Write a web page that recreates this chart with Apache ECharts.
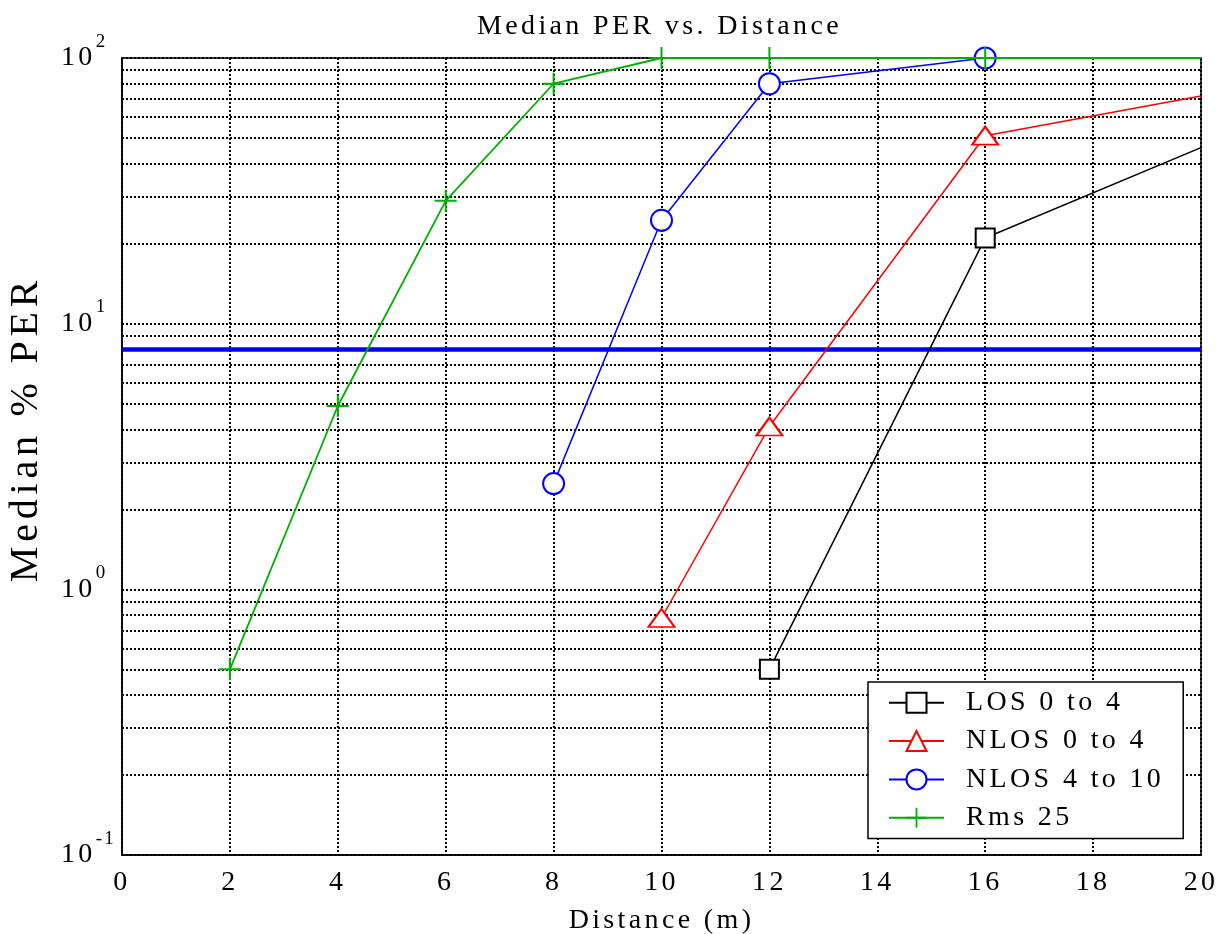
<!DOCTYPE html>
<html>
<head>
<meta charset="utf-8">
<style>
  html, body { margin: 0; padding: 0; background: #fff; }
  #chart { width: 1220px; height: 934px; }
</style>
<script src="https://cdn.jsdelivr.net/npm/echarts@6/dist/echarts.min.js"></script>
</head>
<body>
<div id="chart"></div>
<script>
// ---------- data ----------
const title = 'Median PER vs. Distance';
const xName = 'Distance (m)';
const yName = 'Median % PER';
const xTicks = [0, 2, 4, 6, 8, 10, 12, 14, 16, 18, 20];
const yDecades = [0.1, 1, 10, 100];
const yMinorGrid = [0.2, 0.3, 0.4, 0.5, 0.6, 0.7, 0.8, 0.9,
                    2, 3, 4, 5, 6, 7, 8, 9,
                    20, 30, 40, 50, 60, 70, 80, 90];
const refLineValue = 8;

const seriesNames = ['LOS 0 to 4', 'NLOS 0 to 4', 'NLOS 4 to 10', 'Rms 25'];
const losX = [12, 16, 20];
const losY = [0.5, 21, 46];
const nlos04X = [10, 12, 16, 20];
const nlos04Y = [0.78, 4.1, 51, 72];
const nlos410X = [8, 10, 12, 16];
const nlos410Y = [2.5, 24.5, 80, 100];
const rmsX = [2, 4, 6, 8, 10, 12, 16, 20];
const rmsY = [0.5, 4.9, 29, 80, 100, 100, 100, 100];

// ---------- mimic the wide letter spacing of the original ----------
(function () {
  const P = CanvasRenderingContext2D.prototype;
  const d = Object.getOwnPropertyDescriptor(P, 'font');
  if (d && d.set && d.get && ('letterSpacing' in P)) {
    Object.defineProperty(P, 'font', {
      configurable: true,
      enumerable: d.enumerable,
      get() { return d.get.call(this); },
      set(v) {
        d.set.call(this, v);
        const m = /(\d+(?:\.\d+)?)px/.exec(v);
        const px = m ? parseFloat(m[1]) : 12;
        try { this.letterSpacing = (px * 0.12).toFixed(2) + 'px'; } catch (e) {}
      }
    });
  }
})();

const FONT = 'Liberation Serif';
const X_MAX = xTicks[xTicks.length - 1];

function zip(xs, ys) {
  return xs.map((x, i) => {
    const item = { value: [x, ys[i]] };
    if (x >= X_MAX) item.symbol = 'none';   // clipped continuation at the edge
    return item;
  });
}

const plusPath = 'path://M-0.9,-10 L0.9,-10 L0.9,-0.9 L10,-0.9 L10,0.9 L0.9,0.9 L0.9,10 L-0.9,10 L-0.9,0.9 L-10,0.9 L-10,-0.9 L-0.9,-0.9 Z';

const dotted = { color: '#000', width: 2, type: [2, 2] };

const chart = echarts.init(document.getElementById('chart'), null, { renderer: 'canvas' });

const option = {
  animation: false,
  backgroundColor: '#fff',
  title: {
    text: title,
    left: 477,
    top: 11,
    padding: 0,
    textStyle: { fontFamily: FONT, fontSize: 28, fontWeight: 'normal', color: '#000' }
  },
  grid: {
    left: 122, right: 19, top: 58, bottom: 79,
    containLabel: false,
    outerBoundsMode: 'none',
    show: true, borderColor: '#000', borderWidth: 1.5, backgroundColor: 'transparent'
  },
  legend: {
    data: seriesNames,
    orient: 'vertical',
    left: 868,
    top: 682,
    padding: [5, 19, 5, 20],
    itemGap: 7,
    itemWidth: 55,
    itemHeight: 25,
    backgroundColor: '#fff',
    borderColor: '#000',
    borderWidth: 1.5,
    borderRadius: 0,
    z: 10,
    textStyle: { fontFamily: FONT, fontSize: 28, color: '#000', lineHeight: 30, padding: [0, 0, 0, 17] }
  },
  xAxis: {
    type: 'value',
    min: xTicks[0],
    max: X_MAX,
    interval: xTicks[1] - xTicks[0],
    name: xName,
    nameLocation: 'middle',
    nameGap: 50,
    nameTextStyle: { fontFamily: FONT, fontSize: 28, color: '#000' },
    axisLine: { show: true, onZero: false, lineStyle: { color: '#000', width: 1.5 } },
    axisTick: { show: false },
    axisLabel: { fontFamily: FONT, fontSize: 28, color: '#000', margin: 12 },
    splitLine: { show: true, lineStyle: dotted }
  },
  yAxis: {
    type: 'log',
    logBase: 10,
    min: yDecades[0],
    max: yDecades[yDecades.length - 1],
    name: yName,
    nameLocation: 'middle',
    nameGap: 73,
    nameTextStyle: { fontFamily: FONT, fontSize: 40, color: '#000', padding: [0, 0, 0, 55] },
    axisLine: { show: true, lineStyle: { color: '#000', width: 1.5 } },
    axisTick: { show: false },
    axisLabel: {
      align: 'left',
      margin: 61,
      formatter: function (v) {
        const e = Math.round(Math.log10(v));
        return '{a|10}{b|' + e + '}';
      },
      rich: {
        a: { fontFamily: FONT, fontSize: 28, color: '#000', lineHeight: 54 },
        b: { fontFamily: FONT, fontSize: 19, color: '#000', lineHeight: 19, verticalAlign: 'top' }
      }
    },
    splitLine: { show: true, lineStyle: dotted }
  },
  series: [
    {
      name: seriesNames[0],
      type: 'line',
      data: zip(losX, losY),
      symbol: 'emptyRect',
      symbolSize: 19,
      lineStyle: { color: '#000', width: 1.5 },
      itemStyle: { color: '#000', borderWidth: 1.5 },
      z: 3,
      markLine: {
        silent: true,
        symbol: ['none', 'none'],
        z: 1,
        label: { show: false },
        emphasis: { disabled: true },
        lineStyle: dotted,
        data: yMinorGrid.map(v => ({ yAxis: v })).concat([
          { yAxis: refLineValue, lineStyle: { color: '#0000ff', width: 4.5, type: 'solid' } }
        ])
      }
    },
    {
      name: seriesNames[1],
      type: 'line',
      data: zip(nlos04X, nlos04Y),
      symbol: 'emptyTriangle',
      symbolSize: [26, 18],
      lineStyle: { color: '#ff0000', width: 1.5 },
      itemStyle: { color: '#ff0000', borderWidth: 1.5 },
      z: 4
    },
    {
      name: seriesNames[2],
      type: 'line',
      data: zip(nlos410X, nlos410Y),
      symbol: 'emptyCircle',
      symbolSize: 21,
      lineStyle: { color: '#0000ff', width: 1.5 },
      itemStyle: { color: '#0000ff', borderWidth: 1.5 },
      z: 5
    },
    {
      name: seriesNames[3],
      type: 'line',
      data: zip(rmsX, rmsY),
      symbol: plusPath,
      symbolSize: 22,
      lineStyle: { color: '#00b000', width: 1.8 },
      itemStyle: { color: '#00b000', borderWidth: 0 },
      z: 6
    }
  ]
};

chart.setOption(option);
</script>
</body>
</html>
